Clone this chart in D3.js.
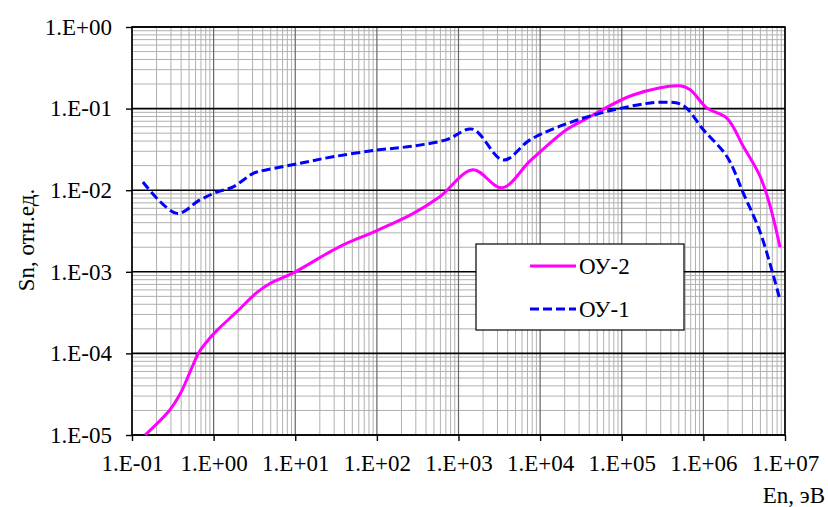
<!DOCTYPE html>
<html>
<head>
<meta charset="utf-8">
<script src="https://cdn.jsdelivr.net/npm/d3@7"></script>
<style>
  body { margin: 0; background: #fff; }
  svg text { font-family: "Liberation Serif", "Times New Roman", serif; }
</style>
</head>
<body>
<svg id="chart" width="828" height="507" font-family="Liberation Serif, serif"></svg>
<script>
// ОУ-2 (magenta, solid)
const energy2 = [0.145, 0.292, 0.39, 0.51, 0.65, 0.82, 1.09, 1.9, 3.4, 4.9, 10, 35, 100, 280, 590, 1500, 3400, 7600, 21000, 34000, 1.4e5, 5.2e5, 6.9e5, 1.1e6, 1.95e6, 3.1e6, 5.0e6, 6.6e6, 8.7e6];
const sn2 = [1.0e-5, 2.04e-5, 3.2e-5, 5.8e-5, 1.0e-4, 1.38e-4, 1.9e-4, 3.2e-4, 5.6e-4, 7.2e-4, 1.0e-3, 2.04e-3, 3.2e-3, 5.2e-3, 8.3e-3, 1.78e-2, 1.07e-2, 2.3e-2, 5.5e-2, 7.2e-2, 0.148, 0.19, 0.17, 0.102, 0.076, 0.034, 0.0145, 6.3e-3, 2.0e-3];
// ОУ-1 (blue, dashed)
const energy1 = [0.136, 0.355, 0.68, 1.1, 1.74, 3.1, 4.5, 11.5, 29, 100, 275, 720, 1480, 3550, 7600, 28000, 1.17e5, 3.2e5, 5.6e5, 1.0e6, 1.95e6, 3.1e6, 5.0e6, 8.7e6];
const sn1 = [0.0126, 5.2e-3, 7.6e-3, 9.5e-3, 0.011, 0.0162, 0.0178, 0.0214, 0.0257, 0.031, 0.0347, 0.0417, 0.056, 0.0234, 0.0417, 0.072, 0.105, 0.12, 0.11, 0.055, 0.0257, 9.1e-3, 3.0e-3, 4.5e-4];

const xTicks = [1e-1, 1e0, 1e1, 1e2, 1e3, 1e4, 1e5, 1e6, 1e7];
const xTickLabels = ["1.E-01", "1.E+00", "1.E+01", "1.E+02", "1.E+03", "1.E+04", "1.E+05", "1.E+06", "1.E+07"];
const yTicks = [1e-5, 1e-4, 1e-3, 1e-2, 1e-1, 1e0];
const yTickLabels = ["1.E-05", "1.E-04", "1.E-03", "1.E-02", "1.E-01", "1.E+00"];

const seriesNames = ["ОУ-2", "ОУ-1"];
const xLabel = "En, эВ";
const yLabel = "Sn, отн.ед.";

const margin = { top: 27, left: 132 };
const width = 653, height = 408;
const fontSize = 23;
const serif = '"Liberation Serif", "Times New Roman", serif';

const svg = d3.select("#chart");
const g = svg.append("g").attr("transform", `translate(${margin.left},${margin.top})`);

const x = d3.scaleLog().domain([1e-1, 1e7]).range([0, width]);
const y = d3.scaleLog().domain([1e-5, 1e0]).range([height, 0]);

// minor grid values: 2..9 in every decade
const minorX = [], minorY = [];
for (let d = -1; d < 7; d++) for (let m = 2; m <= 9; m++) minorX.push(m * Math.pow(10, d));
for (let d = -5; d < 0; d++) for (let m = 2; m <= 9; m++) minorY.push(m * Math.pow(10, d));

const grid = g.append("g");
grid.selectAll(".mx").data(minorX).join("line")
  .attr("x1", d => x(d)).attr("x2", d => x(d)).attr("y1", 0).attr("y2", height)
  .attr("stroke", "#b0b0b0").attr("stroke-width", 1);
grid.selectAll(".my").data(minorY).join("line")
  .attr("y1", d => y(d)).attr("y2", d => y(d)).attr("x1", 0).attr("x2", width)
  .attr("stroke", "#b0b0b0").attr("stroke-width", 1);
grid.selectAll(".Mx").data(xTicks).join("line")
  .attr("x1", d => x(d)).attr("x2", d => x(d)).attr("y1", 0).attr("y2", height)
  .attr("stroke", "#666").attr("stroke-width", 1.2);
grid.selectAll(".My").data(yTicks).join("line")
  .attr("y1", d => y(d)).attr("y2", d => y(d)).attr("x1", 0).attr("x2", width)
  .attr("stroke", "#000").attr("stroke-width", 1.6);

// frame
g.append("rect").attr("width", width).attr("height", height)
  .attr("fill", "none").attr("stroke", "#000").attr("stroke-width", 1.6);

// axes
const xAxis = g.append("g")
  .attr("transform", `translate(0,${height})`)
  .call(d3.axisBottom(x).tickValues(xTicks).tickSize(6).tickPadding(14)
    .tickFormat((d, i) => xTickLabels[i]));
const yAxis = g.append("g")
  .call(d3.axisLeft(y).tickValues(yTicks).tickSize(6).tickPadding(14)
    .tickFormat((d, i) => yTickLabels[i]));
[xAxis, yAxis].forEach(a => {
  a.attr("font-family", serif).attr("font-size", fontSize);
  a.select(".domain").remove();
  a.selectAll("line").attr("stroke", "#000").attr("stroke-width", 1.4);
  a.selectAll("text").attr("fill", "#000");
});

// curves
const line = d3.line()
  .x(d => x(d[0])).y(d => y(d[1]))
  .curve(d3.curveCatmullRom.alpha(0.5));

const data2 = energy2.map((e, i) => [e, sn2[i]]);
const data1 = energy1.map((e, i) => [e, sn1[i]]);

g.append("path").datum(data2).attr("d", line)
  .attr("fill", "none").attr("stroke", "#ff00ff").attr("stroke-width", 3);
g.append("path").datum(data1).attr("d", line)
  .attr("fill", "none").attr("stroke", "#0000ff").attr("stroke-width", 3)
  .attr("stroke-dasharray", "9,4");

// legend
const lg = svg.append("g").attr("transform", "translate(476,244)");
lg.append("rect").attr("width", 208).attr("height", 86)
  .attr("fill", "#fff").attr("stroke", "#000").attr("stroke-width", 1.2);
const items = [
  { name: seriesNames[0], color: "#ff00ff", dash: null, yy: 22 },
  { name: seriesNames[1], color: "#0000ff", dash: "9,4", yy: 65 }
];
items.forEach(it => {
  lg.append("line").attr("x1", 54).attr("x2", 100).attr("y1", it.yy).attr("y2", it.yy)
    .attr("stroke", it.color).attr("stroke-width", 3)
    .attr("stroke-dasharray", it.dash);
  lg.append("text").attr("x", 103).attr("y", it.yy + 8)
    .attr("font-family", serif).attr("font-size", fontSize).text(it.name);
});

// axis labels
svg.append("text").attr("text-anchor", "end").attr("x", 825).attr("y", 503)
  .attr("font-family", serif).attr("font-size", fontSize).text(xLabel);
svg.append("text").attr("text-anchor", "middle")
  .attr("transform", "translate(34,240) rotate(-90)")
  .attr("font-family", serif).attr("font-size", fontSize).text(yLabel);
</script>
</body>
</html>
